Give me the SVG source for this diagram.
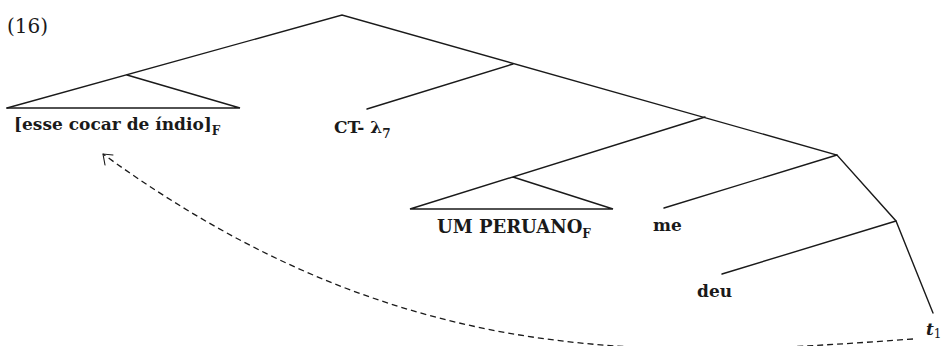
<svg xmlns="http://www.w3.org/2000/svg" width="943" height="346" viewBox="0 0 943 346">
<style>
.e{stroke:#1a1a1a;stroke-width:1.4;fill:none;stroke-linecap:round}
.d{stroke:#1a1a1a;stroke-width:1.3;fill:none;stroke-dasharray:6 4}
.t{font-family:"DejaVu Serif","Liberation Serif",serif;font-weight:bold;font-size:17px;fill:#1a1a1a}
.s{font-size:12px}
</style>
<rect width="943" height="346" fill="#fff"/>
<text x="7" y="33" style="font-family:'DejaVu Serif',serif;font-size:20px;fill:#1a1a1a">(16)</text>
<g id="connectors">
<polyline class="e" points="7,108 342,15 837,155 896,221 933,313"/>
<polyline class="e" points="127,75 240,108 7,108"/>
<line class="e" x1="513" y1="64" x2="367" y2="109"/>
<polyline class="e" points="705,117 410,209 613,209 513,177"/>
<line class="e" x1="837" y1="155" x2="664" y2="208"/>
<line class="e" x1="896" y1="221" x2="722" y2="274"/>
<path class="d" d="M913,339 C650,358 403,372 103,154"/>
<polyline class="e" points="113,155 103,154 105,165" style="stroke-width:1.1"/>
</g>
<g id="n-esse"><text class="t" x="14" y="130">[esse cocar de índio]<tspan class="s" dy="5">F</tspan></text></g>
<g id="n-ct"><text class="t" x="334" y="133">CT- λ<tspan class="s" dy="5">7</tspan></text></g>
<g id="n-um"><text class="t" x="437" y="233" style="font-size:18px">UM PERUANO<tspan class="s" dy="5">F</tspan></text></g>
<g id="n-me"><text class="t" x="653" y="231">me</text></g>
<g id="n-deu"><text class="t" x="697" y="297">deu</text></g>
<g id="n-t"><text class="t" x="926" y="335" style="font-style:italic">t<tspan class="s" dy="3" style="font-style:normal;font-weight:normal">1</tspan></text></g>
</svg>
